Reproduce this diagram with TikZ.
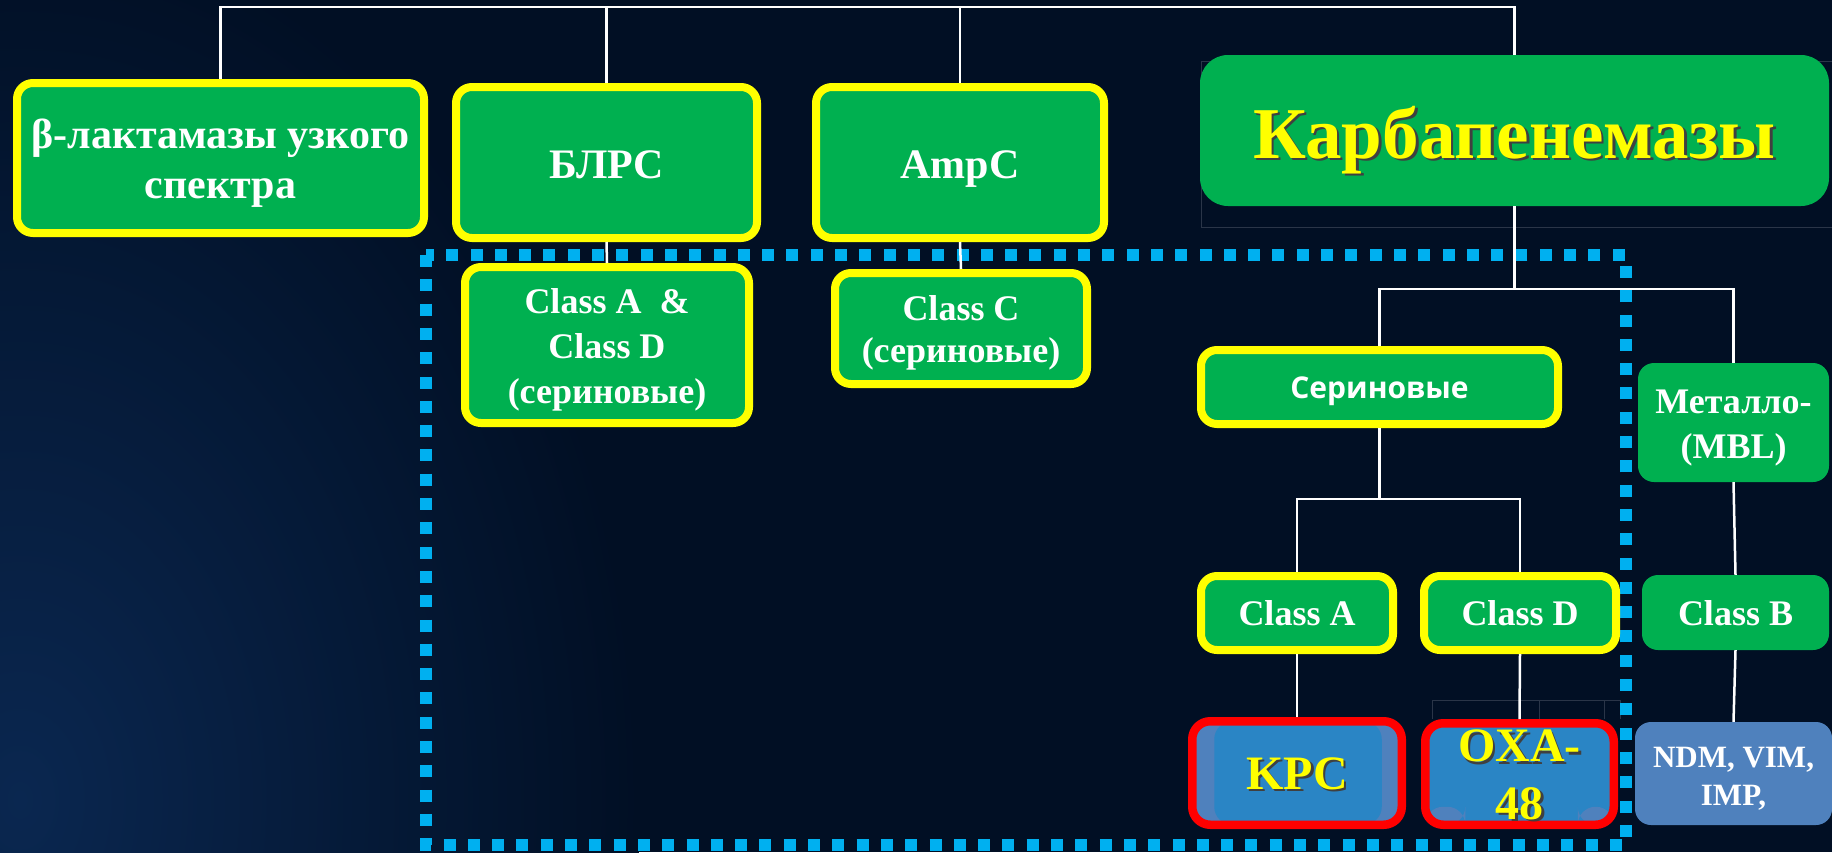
\documentclass[tikz,border=0pt]{standalone}
\usepackage{fontspec}
\setmainfont{Liberation Serif}
\newfontfamily\serinfont{Open Sans}

\definecolor{bgnavy}{HTML}{010F24}
\definecolor{glow}{HTML}{0A2750}
\definecolor{boxgreen}{HTML}{00B050}
\definecolor{rimyellow}{HTML}{FFFF00}
\definecolor{rimred}{HTML}{FF0000}
\definecolor{dotblue}{HTML}{00B0F0}
\definecolor{steelbox}{HTML}{4F81BD}
\definecolor{kpcblue}{HTML}{2A85C5}
\definecolor{faintgrid}{HTML}{2A3548}

\newcommand\fsz[2]{\fontsize{#1}{#2}\selectfont\bfseries}
\newcommand\shadowtxt[1]{\leavevmode\rlap{\hspace{2.5pt}\raisebox{-2.5pt}{\color{black!75}#1}}#1}

\tikzset{
  box/.style={rectangle, rounded corners=16pt, fill=boxgreen, text=white,
    align=center, inner sep=0pt, font=\fsz{36}{45}},
  yellowbox/.style={box, draw=rimyellow, line width=8pt},
  redbox/.style={box, draw=rimred, line width=8.5pt, rounded corners=18pt,
    fill=kpcblue, text=rimyellow},
  tb/.style 2 args={text height=#1pt, text depth=#2pt},
  link/.style={draw=white, line width=2.5pt},
  faint/.style={draw=faintgrid, line width=1pt}
}

\begin{document}
\begin{tikzpicture}[x=1pt,y=-1pt]
  \useasboundingbox (0,0) rectangle (1832,852);
  \fill[bgnavy] (0,0) rectangle (1832,852);
  \shade[inner color=glow, outer color=bgnavy] (20,800) ellipse (620 and 880);

  \draw[faint] (1832,61) -| (1201,227) -- (1832,227);
  \draw[faint] (1432,719) |- (1620,700) -- (1620,719);
  \draw[faint] (1539,700) -- (1539,719);
  \draw[faint] (1604,700) -- (1604,719);

  \draw[dotblue, line width=12pt, dash pattern=on 12pt off 12.3pt]
    (426,255) rectangle (1626,845);

  \coordinate (bus) at (0,7);
  \coordinate (cfork) at (1514.5,289);
  \coordinate (sfork) at (1379.5,499);

  \node[yellowbox, minimum width=407pt, minimum height=150pt,
    font=\fsz{42}{50}, tb={90.6}{10}]
    (beta) at (220.5,158) {β-лактамазы узкого\\спектра};
  \node[yellowbox, minimum width=301pt, minimum height=151pt,
    font=\fsz{42}{50}, tb={41.6}{10}]
    (blrs) at (606.5,162.5) {БЛРС};
  \node[yellowbox, minimum width=288pt, minimum height=151pt,
    font=\fsz{42}{50}, tb={41.6}{10}]
    (ampc) at (960,162.5) {AmpC};
  \node[box, minimum width=629pt, minimum height=151pt, rounded corners=28pt,
    text=rimyellow, font=\fsz{73}{80}, tb={71.6}{16}]
    (carba) at (1514.5,130.5) {\shadowtxt{Карбапенемазы}};
  \node[yellowbox, minimum width=284pt, minimum height=156pt, tb={126.6}{10}]
    (clsad) at (607,345) {Class A \ \&\\Class D\\(сериновые)};
  \node[yellowbox, minimum width=252pt, minimum height=111pt,
    font=\fsz{36}{42}, tb={77}{10}]
    (clsc) at (961,328.5) {Class C\\(сериновые)};
  \node[yellowbox, minimum width=357pt, minimum height=74pt,
    font=\serinfont\fsz{30}{36}, tb={29.6}{7}]
    (serin) at (1379.5,387) {Сериновые};
  \node[box, minimum width=191pt, minimum height=119pt, tb={81.6}{10}]
    (metal) at (1733.5,422.5) {Металло-\\(MBL)};
  \node[yellowbox, minimum width=192pt, minimum height=74pt, tb={32}{8}]
    (clsa) at (1297,613) {Class A};
  \node[yellowbox, minimum width=192pt, minimum height=74pt, tb={32}{8}]
    (clsd) at (1520,613) {Class D};
  \node[box, minimum width=187pt, minimum height=75pt, tb={33}{8}]
    (clsb) at (1735.5,612.5) {Class B};
  \node[redbox, minimum width=209.5pt, minimum height=103.5pt, fill=steelbox,
    font=\fsz{48}{56}, tb={42}{10},
    path picture={\fill[kpcblue] ([xshift=22pt]path picture bounding box.south west)
      rectangle ([xshift=-20pt]path picture bounding box.north east);}]
    (kpc) at (1297,773) {\shadowtxt{KPC}};
  \node[redbox, minimum width=188.5pt, minimum height=101.5pt,
    font=\fsz{48}{57.6}, tb={95.6}{5},
    path picture={\fill[steelbox] (path picture bounding box.south west)
      rectangle ++(40pt,18pt);
      \fill[steelbox] (path picture bounding box.south east)
      rectangle ++(-36pt,18pt);}]
    (oxa) at (1519.5,774) {\shadowtxt{OXA-}\\\shadowtxt{48}};
  \node[box, fill=steelbox, minimum width=197pt, minimum height=103pt,
    font=\fsz{31}{38}, tb={71}{8}]
    (ndm) at (1733.5,773.5) {NDM, VIM,\\IMP,};

  \draw[link] (beta.north) -- (beta.north |- bus) -- (carba.north |- bus)
    -- (carba.north);
  \draw[link] (blrs.north) -- (blrs.north |- bus);
  \draw[link] (ampc.north) -- (ampc.north |- bus);
  \draw[link] (blrs.south) -- (clsad.north);
  \draw[link] (ampc.south) -- (clsc.north);
  \draw[link] (carba.south) -- (cfork);
  \draw[link] (serin.north) |- (cfork) -| (metal.north);
  \draw[link] (serin.south) -- (sfork);
  \draw[link] (clsa.north) |- (sfork) -| (clsd.north);
  \draw[link] (metal.south) -- (clsb.north);
  \draw[link] (clsa.south) -- (kpc.north);
  \draw[link] (clsd.south) -- (oxa.north);
  \draw[link] (clsb.south) -- (ndm.north);
\end{tikzpicture}
\end{document}
